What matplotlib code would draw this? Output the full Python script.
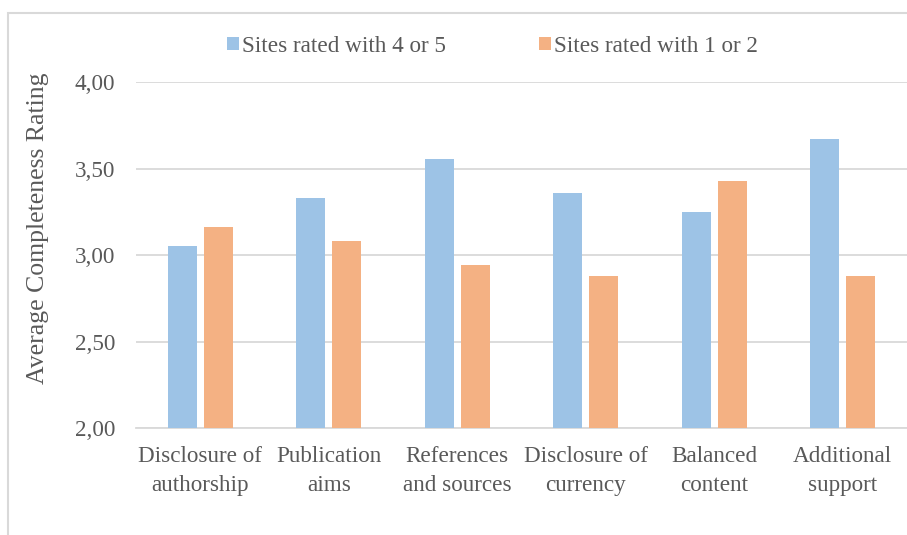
import numpy as np
import matplotlib
matplotlib.use('Agg')
import matplotlib.pyplot as plt
from matplotlib.patches import Rectangle

# data
categories = ['Disclosure of\nauthorship', 'Publication\naims', 'References\nand sources',
              'Disclosure of\ncurrency', 'Balanced\ncontent', 'Additional\nsupport']
high_rated = [3.05, 3.33, 3.555, 3.36, 3.25, 3.67]
low_rated = [3.16, 3.08, 2.94, 2.88, 3.43, 2.88]
series_names = ['Sites rated with 4 or 5', 'Sites rated with 1 or 2']
yticks = [2.0, 2.5, 3.0, 3.5, 4.0]
ytick_labels = ['2,00', '2,50', '3,00', '3,50', '4,00']

blue = '#9DC3E6'
orange = '#F4B183'
grey_text = '#595959'
grid_col = '#D9D9D9'

plt.rcParams['font.family'] = ['Liberation Serif', 'DejaVu Serif']
fs = 16.7

fig = plt.figure(figsize=(9.07, 5.35), dpi=100)
ax = fig.add_axes([136 / 907, 107 / 535, 771 / 907, 346 / 535])

x = np.arange(len(categories))
w = 0.222
ax.bar(x - 0.14, np.array(high_rated) - 2, w, bottom=2, color=blue, label=series_names[0], zorder=3)
ax.bar(x + 0.14, np.array(low_rated) - 2, w, bottom=2, color=orange, label=series_names[1], zorder=3)

ax.set_xlim(-0.5, len(categories) - 0.5)
ax.set_ylim(2, 4)
ax.set_yticks(yticks)
ax.set_yticklabels(ytick_labels)
ax.set_xticks(x)
ax.set_xticklabels(categories, linespacing=1.5)
ax.tick_params(axis='both', length=0, labelsize=fs, colors=grey_text)
ax.tick_params(axis='y', pad=15)
ax.tick_params(axis='x', pad=13)
ax.grid(axis='y', color=grid_col, lw=1.3, zorder=0)
for s in ['top', 'right', 'left']:
    ax.spines[s].set_visible(False)
ax.spines['bottom'].set_color(grid_col)
ax.spines['bottom'].set_linewidth(1.3)

# axis title sits a bit above the middle of the plot, as in the original
fig.text(38 / 907, 1 - 228 / 535, 'Average Completeness Rating', rotation=90,
         ha='center', va='center', fontsize=18.5, color=grey_text)

fig.legend(loc='center', bbox_to_anchor=(0.543, 1 - 46 / 535), ncol=2, frameon=False,
           fontsize=fs, labelcolor=grey_text, handlelength=0.52, handleheight=0.52,
           handletextpad=0.15, columnspacing=4.0)

# chart area border (only left and top visible in the crop)
fig.patches.append(Rectangle((8 / 907, -0.1), 1.2, 1.1 - 13 / 535, transform=fig.transFigure,
                             fill=False, edgecolor=grid_col, lw=1.5, clip_on=False))

fig.savefig('out.png', dpi=100)
